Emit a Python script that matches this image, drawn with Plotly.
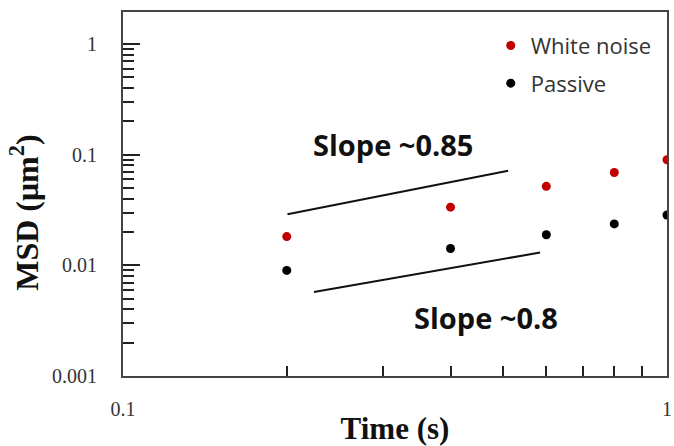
import math
import plotly.graph_objects as go

time_s = [0.2, 0.4, 0.6, 0.8, 1.0]
msd_white_noise = [0.0182, 0.0336, 0.0518, 0.069, 0.090]
msd_passive = [0.0090, 0.0142, 0.0189, 0.0237, 0.0285]

slope_085_x = [0.2006, 0.5105]
slope_085_y = [0.0290, 0.0715]
slope_08_x = [0.2244, 0.5844]
slope_08_y = [0.00574, 0.01306]

label_085 = ("Slope ~0.85", 0.313, 0.1227)
label_08 = ("Slope ~0.8", 0.464, 0.00336)

y_tickvals = [0.001, 0.01, 0.1, 1]
y_ticktext = ["0.001", "0.01", "0.1", "1"]
x_tickvals = [0.1, 1]
x_ticktext = ["0.1", "1"]

serif = "Liberation Serif, Times New Roman, serif"
sans = "Open Sans, Segoe UI, sans-serif"

fig = go.Figure()
fig.add_trace(go.Scatter(x=slope_085_x, y=slope_085_y, mode="lines",
                         line=dict(color="#111111", width=2), showlegend=False))
fig.add_trace(go.Scatter(x=slope_08_x, y=slope_08_y, mode="lines",
                         line=dict(color="#111111", width=2), showlegend=False))
fig.add_trace(go.Scatter(x=time_s, y=msd_white_noise, mode="markers", name="White noise",
                         legendgroup="a",
                         marker=dict(color="#c00000", size=9)))
fig.add_trace(go.Scatter(x=time_s, y=msd_passive, mode="markers", name="Passive",
                         legendgroup="b",
                         marker=dict(color="#000000", size=9)))

for txt, xv, yv in [label_085, label_08]:
    fig.add_annotation(x=math.log10(xv), y=math.log10(yv), text="<b>" + txt + "</b>",
                       showarrow=False, xref="x", yref="y",
                       font=dict(family=sans, size=29, color="#111111"))

# y-axis title
fig.add_annotation(x=-0.181, y=0.447, xref="paper", yref="paper", textangle=-90,
                   text="<b>MSD (μm<sup>2</sup>)</b>", showarrow=False,
                   xanchor="center", yanchor="middle",
                   font=dict(family=serif, size=32, color="#111111"))

minor_y = [m * 10 ** e for e in range(-3, 1) for m in range(2, 10)]
minor_x = [m * 0.1 for m in range(2, 10)]

fig.update_xaxes(type="log", range=[-1, 0], tickvals=x_tickvals, ticktext=x_ticktext,
                 ticks="", showgrid=False, zeroline=False,
                 showline=True, linecolor="#444444", linewidth=2, mirror=True,
                 tickfont=dict(family=serif, size=20, color="#333333"),
                 ticklabelstandoff=14, ticklabeloverflow="allow",
                 minor=dict(tickvals=minor_x, ticks="inside", ticklen=10, tickwidth=2,
                            tickcolor="#222222", showgrid=False),
                 title=dict(text="<b>Time (s)</b>", font=dict(family=serif, size=31, color="#111111"),
                            standoff=2))
fig.update_yaxes(type="log", range=[-3, 0.29], tickvals=y_tickvals, ticktext=y_ticktext,
                 ticks="inside", ticklen=17, tickwidth=2, tickcolor="#222222",
                 showgrid=False, zeroline=False,
                 showline=True, linecolor="#444444", linewidth=2, mirror=True,
                 tickfont=dict(family=serif, size=20, color="#333333"),
                 ticklabelstandoff=20,
                 minor=dict(tickvals=minor_y, ticks="inside", ticklen=11, tickwidth=2,
                            tickcolor="#222222", showgrid=False))

fig.update_layout(
    width=674, height=446,
    margin=dict(l=123, r=2, t=12, b=65),
    paper_bgcolor="white", plot_bgcolor="white",
    showlegend=True,
    legend=dict(x=0.676, y=0.965, xanchor="left", yanchor="top",
                bgcolor="rgba(0,0,0,0)", tracegroupgap=6,
                font=dict(family=sans, size=22, color="#333333")),
)

fig.write_html("out.html")
